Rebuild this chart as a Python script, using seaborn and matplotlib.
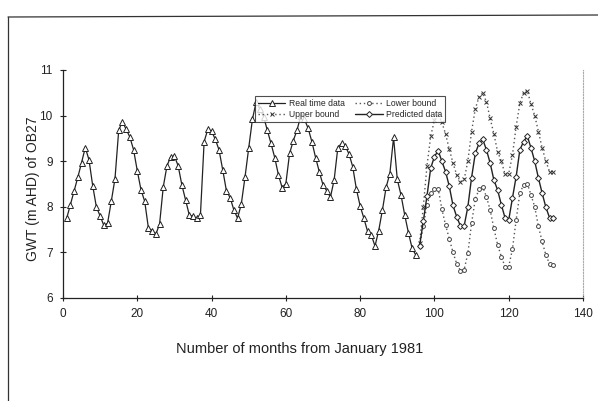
import numpy as np
import pandas as pd
import seaborn as sns
import matplotlib.pyplot as plt
from matplotlib.lines import Line2D

# measured groundwater levels, months 1..95
real_gwt = [7.75, 8.05, 8.35, 8.65, 8.97, 9.3, 9.03, 8.46, 7.99, 7.8,
            7.59, 7.64, 8.12, 8.62, 9.68, 9.87, 9.70, 9.53, 9.25, 8.79,
            8.37, 8.12, 7.53, 7.48, 7.40, 7.62, 8.44, 8.9, 9.1, 9.11,
            8.9, 8.48, 8.15, 7.82, 7.79, 7.75, 7.82, 9.43, 9.70, 9.66,
            9.48, 9.25, 8.81, 8.35, 8.2, 7.93, 7.75, 8.06, 8.65, 9.29,
            9.92, 10.3, 10.15, 9.98, 9.68, 9.39, 9.08, 8.7, 8.42, 8.51,
            9.17, 9.45, 9.68, 9.99, 9.92, 9.72, 9.43, 9.08, 8.77, 8.48,
            8.35, 8.21, 8.59, 9.3, 9.39, 9.33, 9.16, 8.88, 8.38, 8.02,
            7.75, 7.46, 7.38, 7.14, 7.48, 7.93, 8.43, 8.73, 9.52, 8.6,
            8.26, 7.82, 7.43, 7.09, 6.94]

# forecast, months 96..132
predicted = [7.14, 7.68, 8.24, 8.85, 9.1, 9.23, 9.0, 8.77, 8.45, 8.03,
             7.78, 7.58, 7.58, 8.0, 8.64, 9.17, 9.39, 9.48, 9.25, 8.96,
             8.59, 8.37, 8.05, 7.76, 7.71, 8.19, 8.66, 9.25, 9.43, 9.55,
             9.29, 9.0, 8.63, 8.3, 7.99, 7.76, 7.75]
upper = [7.2, 8.0, 8.9, 9.55, 9.9, 10.05, 9.85, 9.6, 9.26, 8.96,
         8.7, 8.55, 8.6, 9.0, 9.65, 10.15, 10.4, 10.5, 10.3, 9.94,
         9.6, 9.21, 9.0, 8.72, 8.73, 9.13, 9.76, 10.27, 10.5, 10.55,
         10.25, 10.0, 9.65, 9.29, 9.0, 8.77, 8.77]
lower = [7.14, 7.57, 8.05, 8.3, 8.38, 8.4, 7.95, 7.6, 7.3, 7.0,
         6.75, 6.6, 6.62, 6.98, 7.64, 8.17, 8.38, 8.44, 8.22, 7.93,
         7.53, 7.17, 6.91, 6.69, 6.69, 7.07, 7.71, 8.3, 8.48, 8.51,
         8.26, 8.0, 7.57, 7.24, 6.94, 6.75, 6.72]

real_months = np.arange(1, len(real_gwt) + 1)
pred_months = np.arange(96, 96 + len(predicted))

df_real = pd.DataFrame({'Mes': real_months, 'GWT': real_gwt})
df_pred = pd.DataFrame({'Mes': pred_months, 'Pred': predicted,
                        'Upper': upper, 'Lower': lower})

sns.set_theme(style="ticks")
plt.rcParams['font.family'] = ['Liberation Sans', 'DejaVu Sans']

fig = plt.figure(figsize=(5.98, 4.01), dpi=100)
ax = fig.add_axes([63 / 598, 1 - 298 / 401, 520 / 598, 228 / 401])

ink = '#222222'
sns.lineplot(data=df_real, x='Mes', y='GWT', ax=ax, color=ink, lw=0.9,
             marker='^', markersize=4, markerfacecolor='white',
             markeredgecolor=ink, markeredgewidth=0.7, label='Real time data')
sns.lineplot(data=df_pred, x='Mes', y='Upper', ax=ax, color='#555555', lw=1.0,
             linestyle=(0, (1, 2)), marker='x', markersize=3.5,
             markeredgecolor='#333333', markeredgewidth=0.7, label='Upper bound')
sns.lineplot(data=df_pred, x='Mes', y='Lower', ax=ax, color='#555555', lw=1.0,
             linestyle=(0, (1, 2)), marker='o', markersize=2.8,
             markerfacecolor='white', markeredgecolor='#444444',
             markeredgewidth=0.7, label='Lower bound')
sns.lineplot(data=df_pred, x='Mes', y='Pred', ax=ax, color=ink, lw=1.0,
             marker='D', markersize=3, markerfacecolor='white',
             markeredgecolor=ink, markeredgewidth=0.7, label='Predicted data')

ax.set_xlim(0, 140)
ax.set_ylim(6, 11)
ax.set_xticks(range(0, 141, 20))
ax.set_yticks(range(6, 12))
ax.tick_params(direction='inout', length=5, width=0.8, labelsize=8.5,
               colors='#222222', pad=5)

for s in ['left', 'bottom']:
    ax.spines[s].set_color('#222222')
    ax.spines[s].set_linewidth(0.9)
ax.spines['top'].set_visible(False)
ax.spines['right'].set_color('#aaaaaa')
ax.spines['right'].set_linestyle((0, (1, 1.5)))
ax.spines['right'].set_linewidth(0.8)

ax.set_xlabel('Number of months from January 1981', fontsize=10.5,
              color='#222222')
ax.set_ylabel('GWT (m AHD) of OB27', fontsize=10, color='#222222')
ax.xaxis.set_label_coords(0.456, -0.195)
ax.yaxis.set_label_coords(-0.044, 0.48)

h, l = ax.get_legend_handles_labels()
leg = ax.legend(h, l, ncol=2,
                loc='upper left', bbox_to_anchor=(0.369, 0.885),
                fontsize=6.2, frameon=True, fancybox=False, borderpad=0.35,
                handlelength=3.2, columnspacing=1.2, labelspacing=0.25,
                handletextpad=0.4, borderaxespad=0)
leg.get_frame().set_edgecolor('#222222')
leg.get_frame().set_linewidth(0.8)

# outer chart frame (scanned page border)
fig.add_artist(Line2D([8 / 598, 1.0], [1 - 17 / 401, 1 - 15 / 401],
                      transform=fig.transFigure, color='#333333', lw=0.9))
fig.add_artist(Line2D([8 / 598, 8 / 598], [1 - 17 / 401, 0.0],
                      transform=fig.transFigure, color='#333333', lw=0.9))

fig.savefig('out.png', dpi=100, facecolor='white')
